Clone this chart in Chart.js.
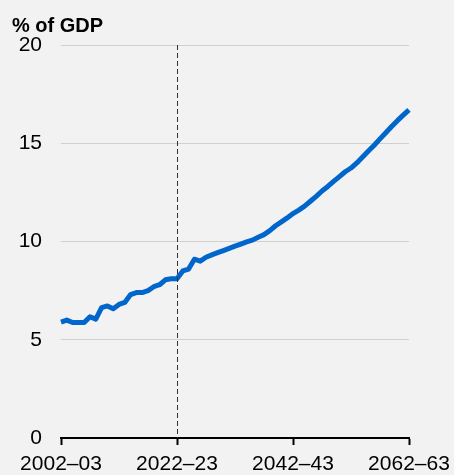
<!DOCTYPE html>
<html>
<head>
<meta charset="utf-8">
<script src="https://cdn.jsdelivr.net/npm/chart.js@4"></script>
<style>
    html, body { margin: 0; padding: 0; background: #f2f2f2; }
    #wrap { width: 454px; height: 475px; position: relative; }
</style>
</head>
<body>
<div id="wrap"><canvas id="gdpChart" width="454" height="475"></canvas></div>
<script>
// Spending as % of GDP, actual to 2022-23 then projected

const years = [
    '2002–03', '2003–04', '2004–05', '2005–06', '2006–07', '2007–08', '2008–09', '2009–10', '2010–11', '2011–12',
    '2012–13', '2013–14', '2014–15', '2015–16', '2016–17', '2017–18', '2018–19', '2019–20', '2020–21', '2021–22',
    '2022–23', '2023–24', '2024–25', '2025–26', '2026–27', '2027–28', '2028–29', '2029–30', '2030–31', '2031–32',
    '2032–33', '2033–34', '2034–35', '2035–36', '2036–37', '2037–38', '2038–39', '2039–40', '2040–41', '2041–42',
    '2042–43', '2043–44', '2044–45', '2045–46', '2046–47', '2047–48', '2048–49', '2049–50', '2050–51', '2051–52',
    '2052–53', '2053–54', '2054–55', '2055–56', '2056–57', '2057–58', '2058–59', '2059–60', '2060–61', '2061–62',
    '2062–63'
];

const values = [
    5.9, 6.0, 5.88, 5.88, 5.88, 6.17, 6.05, 6.63, 6.72, 6.58,
    6.8, 6.9, 7.3, 7.4, 7.4, 7.5, 7.7, 7.8, 8.05, 8.1,
    8.1, 8.5, 8.6, 9.1, 9.0, 9.2, 9.32, 9.43, 9.54, 9.65,
    9.76, 9.87, 9.98, 10.07, 10.22, 10.35, 10.55, 10.8, 11.0, 11.2,
    11.42, 11.6, 11.8, 12.05, 12.3, 12.57, 12.8, 13.06, 13.3, 13.55,
    13.74, 14.0, 14.3, 14.6, 14.9, 15.22, 15.53, 15.85, 16.15, 16.43,
    16.7
];

const xTickLabels = ['2002–03', '2022–23', '2042–43', '2062–63'];
const yTicks = [0, 5, 10, 15, 20];
const dividerYear = '2022–23';
const yTitle = '% of GDP';

const FONT = '"Liberation Sans", Arial, sans-serif';

const extrasPlugin = {
    id: 'extras',
    beforeDraw(chart) {
        const ctx = chart.ctx;
        ctx.save();
        ctx.fillStyle = '#f2f2f2';
        ctx.fillRect(0, 0, chart.width, chart.height);
        ctx.restore();
    },
    afterDatasetsDraw(chart) {
        const ctx = chart.ctx;
        const x = Math.round(chart.scales.x.getPixelForValue(years.indexOf(dividerYear))) + 0.5;
        const area = chart.chartArea;
        ctx.save();
        ctx.strokeStyle = '#333333';
        ctx.lineWidth = 1;
        ctx.setLineDash([5, 3]);
        ctx.beginPath();
        ctx.moveTo(x, area.top);
        ctx.lineTo(x, area.bottom);
        ctx.stroke();
        ctx.restore();

        ctx.save();
        ctx.font = 'bold 20px ' + FONT;
        ctx.fillStyle = '#000000';
        ctx.textAlign = 'left';
        ctx.textBaseline = 'alphabetic';
        ctx.fillText(yTitle, 12, 32);
        ctx.restore();
    }
};

const ctx = document.getElementById('gdpChart').getContext('2d');
const chart = new Chart(ctx, {
    type: 'line',
    data: {
        labels: years,
        datasets: [{
            label: yTitle,
            data: values,
            borderColor: '#0066cc',
            borderWidth: 5,
            borderJoinStyle: 'round',
            pointRadius: 0,
            tension: 0,
            fill: false
        }]
    },
    options: {
        responsive: false,
        animation: false,
        layout: {
            padding: { left: 0, right: 45, top: 45, bottom: 0 }
        },
        scales: {
            x: {
                type: 'category',
                offset: false,
                afterFit: scale => {
                    scale.height = 37;
                    scale.paddingLeft = 0;
                    scale.paddingRight = 0;
                },
                border: { display: true, color: '#000000', width: 2 },
                grid: {
                    display: true,
                    drawOnChartArea: false,
                    drawTicks: true,
                    tickLength: 7,
                    tickWidth: 2,
                    tickColor: c => xTickLabels.includes(years[c.index]) ? '#000000' : 'rgba(0,0,0,0)'
                },
                ticks: {
                    autoSkip: false,
                    maxRotation: 0,
                    minRotation: 0,
                    padding: 7,
                    color: '#000000',
                    font: { family: FONT, size: 21 },
                    callback: (value, index) => xTickLabels.includes(years[index]) ? years[index] : ''
                }
            },
            y: {
                min: 0,
                max: 20,
                afterFit: scale => { scale.width = 61; },
                afterBuildTicks: scale => { scale.ticks = yTicks.map(v => ({ value: v })); },
                border: { display: false },
                grid: {
                    drawTicks: false,
                    lineWidth: 1,
                    color: c => c.tick && c.tick.value === 0 ? 'rgba(0,0,0,0)' : '#d0d0d0'
                },
                ticks: {
                    padding: 19,
                    color: '#000000',
                    font: { family: FONT, size: 21 }
                }
            }
        },
        plugins: {
            legend: { display: false },
            tooltip: { enabled: false }
        }
    },
    plugins: [extrasPlugin]
});
</script>
</body>
</html>
